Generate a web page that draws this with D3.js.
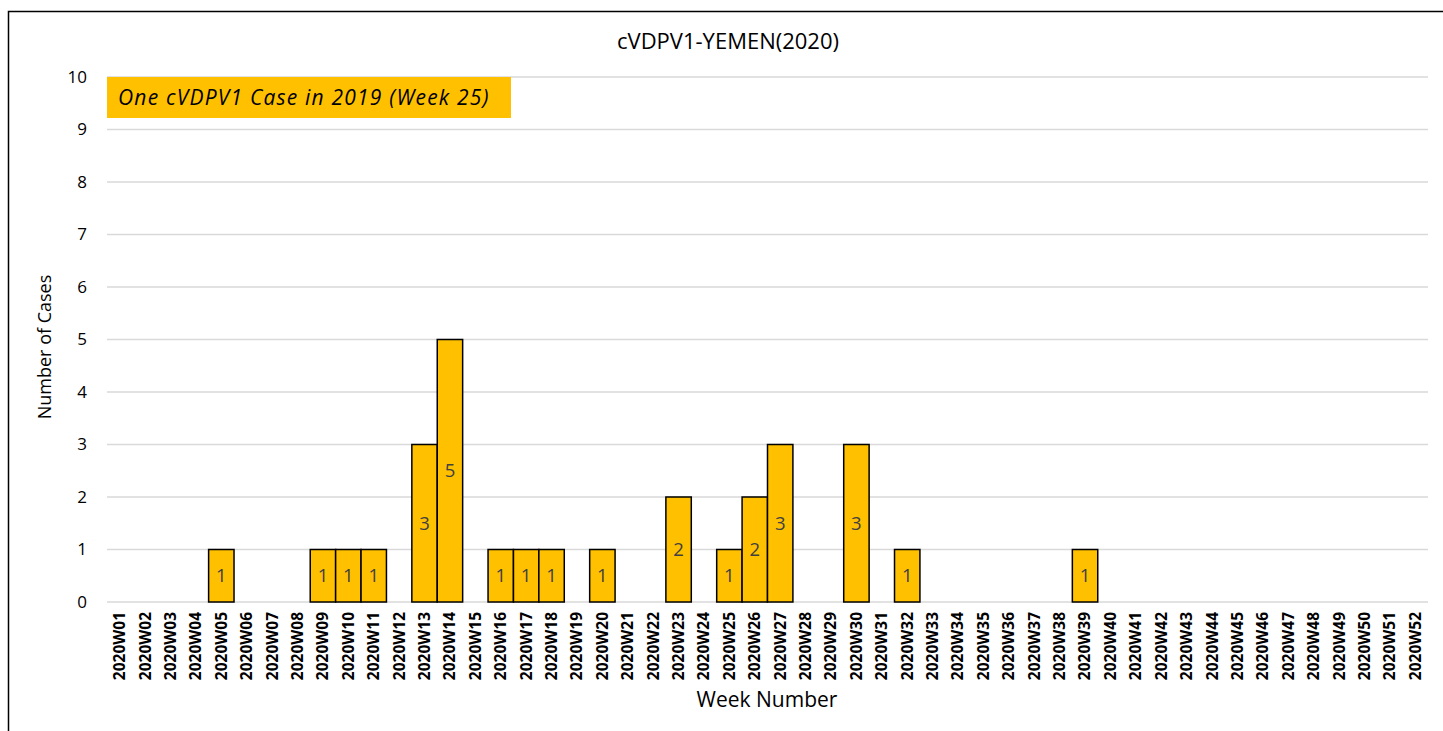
<!DOCTYPE html>
<html>
<head>
<meta charset="utf-8">
<script src="https://cdn.jsdelivr.net/npm/d3@7"></script>
<style>
  body { margin: 0; background: #fff; }
  svg { display: block; font-family: "Open Sans", "Noto Sans", sans-serif; }
</style>
</head>
<body>
<div class="chart"></div>
<script>
// weekly case counts, 2020W01..2020W52
const weeks = d3.range(1, 53).map(i => '2020W' + String(i).padStart(2, '0'));
const caseWeeks = ['2020W05', '2020W09', '2020W10', '2020W11', '2020W13', '2020W14', '2020W16', '2020W17',
  '2020W18', '2020W20', '2020W23', '2020W25', '2020W26', '2020W27', '2020W30', '2020W32', '2020W39'];
const caseCounts = [1, 1, 1, 1, 3, 5, 1, 1, 1, 1, 2, 1, 2, 3, 3, 1, 1];
const yTicks = [0, 1, 2, 3, 4, 5, 6, 7, 8, 9, 10];
const title = 'cVDPV1-YEMEN(2020)';
const note = 'One cVDPV1 Case in 2019 (Week 25)';

const W = 1443, H = 731;
const plot = { left: 107, right: 1428, top: 77, bottom: 602 };

const svg = d3.select('.chart').append('svg')
  .attr('width', W)
  .attr('height', H);

// outer frame
svg.append('rect')
  .attr('x', 8.5).attr('y', 11.5)
  .attr('width', W).attr('height', H)
  .attr('fill', 'none')
  .attr('stroke', '#000')
  .attr('stroke-width', 1.5);

let x = d3.scaleBand().domain(weeks).range([plot.left, plot.right]).padding(0);
let y = d3.scaleLinear().domain([0, 10]).range([plot.bottom, plot.top]);

// gridlines
svg.append('g')
  .selectAll('line')
  .data(yTicks)
  .enter().append('line')
  .attr('x1', plot.left).attr('x2', plot.right)
  .attr('y1', d => y(d)).attr('y2', d => y(d))
  .attr('stroke', '#d9d9d9')
  .attr('stroke-width', 1.5);

// y tick labels
svg.append('g')
  .selectAll('text')
  .data(yTicks)
  .enter().append('text')
  .attr('x', 87)
  .attr('y', d => y(d))
  .attr('dy', '0.35em')
  .attr('text-anchor', 'end')
  .attr('font-size', 17)
  .attr('fill', '#000')
  .text(d => d);

// note box
svg.append('rect')
  .attr('x', plot.left).attr('y', y(10))
  .attr('width', 404).attr('height', 41)
  .attr('fill', '#FFC000');
svg.append('text')
  .attr('x', 118).attr('y', y(10) + 28)
  .attr('font-size', 21)
  .attr('font-style', 'italic')
  .attr('letter-spacing', 1.2)
  .attr('fill', '#000')
  .text(note);

let data = caseWeeks.map((w, i) => ({ week: w, value: caseCounts[i] }));

// bars
svg.append('g')
  .selectAll('rect')
  .data(data)
  .enter().append('rect')
  .attr('x', d => x(d.week))
  .attr('y', d => y(d.value))
  .attr('width', x.bandwidth())
  .attr('height', d => y(0) - y(d.value))
  .attr('fill', '#FFC000')
  .attr('stroke', '#000')
  .attr('stroke-width', 1.5);

// bar labels
svg.append('g')
  .selectAll('text')
  .data(data)
  .enter().append('text')
  .attr('x', d => x(d.week) + x.bandwidth() / 2)
  .attr('y', d => y(d.value / 2))
  .attr('dy', '0.35em')
  .attr('text-anchor', 'middle')
  .attr('font-size', 18.5)
  .attr('fill', '#404040')
  .text(d => d.value);

// x tick labels
svg.append('g')
  .selectAll('text')
  .data(weeks)
  .enter().append('text')
  .attr('transform', d => `translate(${x(d) + x.bandwidth() / 2},612) rotate(-90)`)
  .attr('dy', '0.35em')
  .attr('text-anchor', 'end')
  .attr('font-size', 15.5)
  .attr('font-weight', 'bold')
  .attr('fill', '#000')
  .text(d => d);

// title and axis titles
svg.append('text')
  .attr('x', 728).attr('y', 49)
  .attr('text-anchor', 'middle')
  .attr('font-size', 22)
  .attr('fill', '#000')
  .text(title);

svg.append('text')
  .attr('x', 767).attr('y', 707)
  .attr('text-anchor', 'middle')
  .attr('font-size', 21)
  .attr('fill', '#000')
  .text('Week Number');

svg.append('text')
  .attr('transform', 'translate(51,347) rotate(-90)')
  .attr('text-anchor', 'middle')
  .attr('font-size', 18)
  .attr('fill', '#000')
  .text('Number of Cases');
</script>
</body>
</html>
